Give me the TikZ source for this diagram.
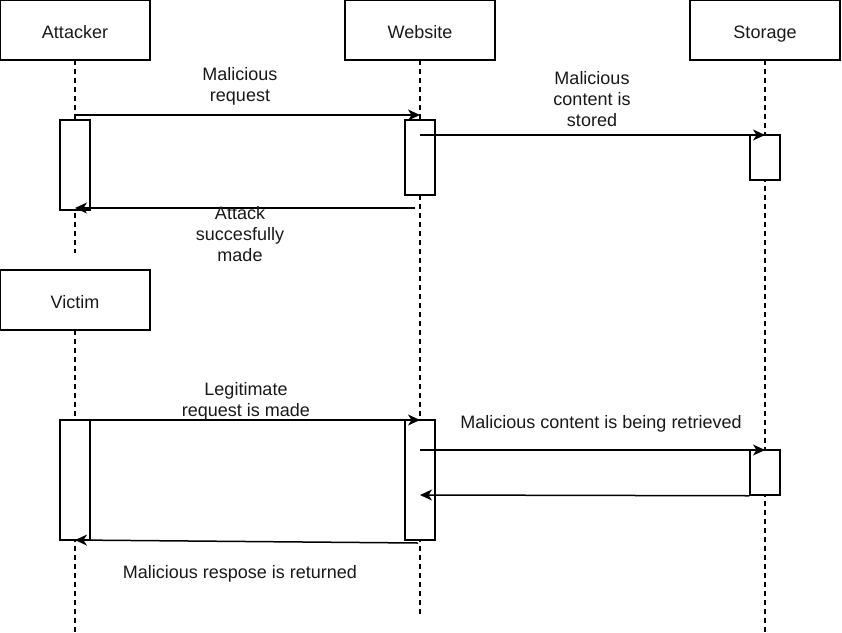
\documentclass[tikz,border=0pt]{standalone}
\usepackage{fontspec}
\setmainfont{Liberation Sans}
\usetikzlibrary{arrows.meta,positioning}

\begin{document}
\begin{tikzpicture}[x=1pt,y=-1pt,
  txt/.style={font=\fontsize{18}{21}\selectfont, align=center, text=black!90},
  actor/.style={draw, line width=1.5pt, outer sep=0pt, minimum width=150pt, minimum height=60pt, txt, text height=16pt, text depth=0pt},
  lifeline/.style={line width=1.5pt, dash pattern=on 4.5pt off 4.5pt},
  act/.style={draw, fill=white, line width=1.5pt, minimum width=30pt, inner sep=0pt},
  msg/.style={line width=1.5pt, -{Stealth[length=12pt, width=11pt, inset=3.5pt]}}]
  \useasboundingbox (0,0) rectangle (842,632);

  \node[actor] (attacker) at (75,30) {Attacker};
  \node[actor, right=195pt of attacker] (website) {Website};
  \node[actor, right=195pt of website] (storage) {Storage};
  \node[actor, below=210pt of attacker] (victim) {Victim};

  \coordinate (attackerend) at (75,253);
  \coordinate (websiteend) at (420,615);
  \coordinate (storageend) at (765,632);
  \coordinate (victimend) at (75,632);

  \draw[lifeline] (attacker.south) -- (attackerend);
  \draw[lifeline] (website.south) -- (websiteend);
  \draw[lifeline] (storage.south) -- (storageend);
  \draw[lifeline] (victim.south) -- (victimend);

  \node[act, minimum height=90pt] (attackeract) at (75,165) {};
  \node[act, minimum height=75pt] (websiteact) at (420,157.5) {};
  \node[act, minimum height=45pt] (storageact) at (765,157.5) {};
  \node[act, minimum height=120pt] (victimact) at (75,480) {};
  \node[act, minimum height=120pt] (websiteacttwo) at (420,480) {};
  \node[act, minimum height=45pt] (storageacttwo) at (765,472.5) {};

  \coordinate (reqfrom) at (75,115);
  \coordinate (reqto) at (420,115);
  \coordinate (storefrom) at (420,135);
  \coordinate (storeto) at (765,135);
  \coordinate (madefrom) at (415,208);
  \coordinate (madeto) at (75,208);
  \coordinate (legitfrom) at (75,420);
  \coordinate (legitto) at (420,420);
  \coordinate (getfrom) at (420,450);
  \coordinate (getto) at (765,450);
  \coordinate (backto) at (420,495);
  \coordinate (retfrom) at (418,543);
  \coordinate (retto) at (75,540);

  \draw[msg] (reqfrom) -- (reqto);
  \draw[msg] (storefrom) -- (storeto);
  \draw[msg] (madefrom) -- (madeto);
  \draw[msg] (legitfrom) -- (legitto);
  \draw[msg] (getfrom) -- (getto);
  \draw[msg] (storageacttwo.south west) -- (backto);
  \draw[msg] (retfrom) -- (retto);

  \node[txt] (reqlabel) at (240,86) {Malicious\\request};
  \node[txt] (storelabel) at (592,99.5) {Malicious\\content is\\stored};
  \node[txt] (madelabel) at (240,234) {Attack\\succesfully\\made};
  \node[txt] (legitlabel) at (246,401) {Legitimate\\request is made};
  \node[txt] (getlabel) at (601,423.5) {Malicious content is being retrieved};
  \node[txt] (retlabel) at (240,574) {Malicious respose is returned};
\end{tikzpicture}
\end{document}
